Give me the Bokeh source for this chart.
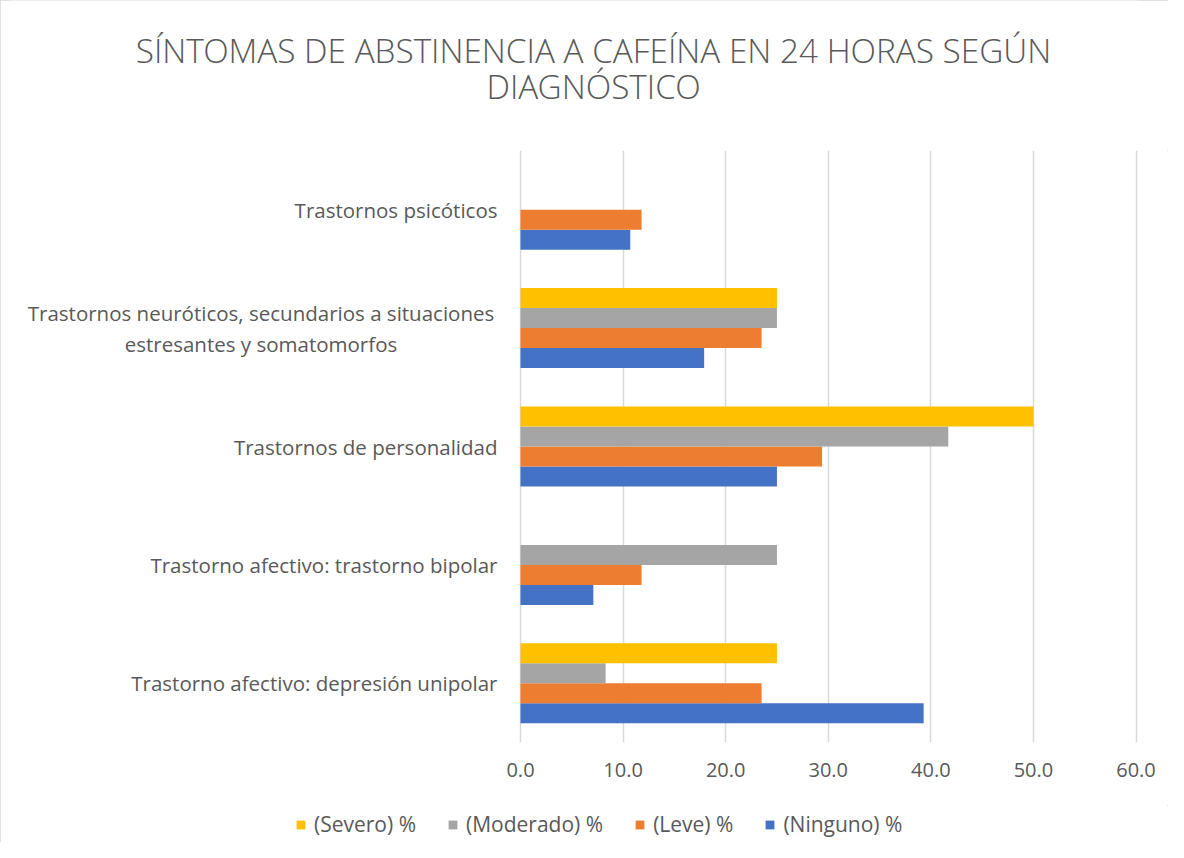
from bokeh.plotting import figure
from bokeh.layouts import column
from bokeh.models import (Legend, LegendItem, Label, NumeralTickFormatter, FixedTicker,
                          FactorRange, Range1d, ColumnDataSource)
from bokeh.transform import dodge
from bokeh.embed import file_html
from bokeh.resources import INLINE
from bokeh.core.properties import value

categories = [
    "Trastorno afectivo: depresión unipolar",
    "Trastorno afectivo: trastorno bipolar",
    "Trastornos de personalidad",
    "Trastornos neuróticos, secundarios a situaciones\nestresantes y somatomorfos",
    "Trastornos psicóticos",
]
ninguno = [39.3, 7.1, 25.0, 17.9, 10.7]
leve = [23.5, 11.8, 29.4, 23.5, 11.8]
moderado = [8.3, 25.0, 41.7, 25.0, 0.0]
severo = [25.0, 0.0, 50.0, 25.0, 0.0]
x_ticks = [0, 10, 20, 30, 40, 50, 60]
series_labels = ["(Severo) %", "(Moderado) %", "(Leve) %", "(Ninguno) %"]
title_lines = ["SÍNTOMAS DE ABSTINENCIA A CAFEÍNA EN 24 HORAS SEGÚN", "DIAGNÓSTICO"]

FONT = "Open Sans"
TFONT = "'Open Sans Light', 'Open Sans'"
TXT = "#595959"
COLORS = {"ninguno": "#4472C4", "leve": "#ED7D31", "moderado": "#A5A5A5", "severo": "#FFC000"}

# page geometry (px)
W = 1168
FRAME_L, FRAME_R = 10, 1138
TITLE_H, MAIN_H, LEG_H = 150, 655, 37
ZERO_PX, SIXTY_PX = 520, 1135.5
ppu = (SIXTY_PX - ZERO_PX) / 60.0
x_start = -(ZERO_PX - FRAME_L) / ppu
x_end = 60 + (FRAME_R - SIXTY_PX) / ppu


def bare(fig):
    fig.outline_line_color = None
    fig.background_fill_color = "white"
    fig.border_fill_color = "white"
    return fig


# ---- title strip ----
pt = bare(figure(width=W, height=TITLE_H, output_backend="svg", toolbar_location=None,
                 x_range=Range1d(FRAME_L, FRAME_R), y_range=Range1d(TITLE_H, 0),
                 x_axis_type=None, y_axis_type=None, min_border=0,
                 min_border_left=FRAME_L, min_border_right=W - FRAME_R))
for line, yc in zip(title_lines, [49, 85.5]):
    pt.add_layout(Label(x=593, y=yc, text=line, text_align="center",
                        text_baseline="middle", text_font=TFONT, text_font_size="33.3px",
                        text_color=TXT))

# ---- main chart ----
source = ColumnDataSource(dict(cat=categories, ninguno=ninguno, leve=leve,
                               moderado=moderado, severo=severo))

p = bare(figure(width=W, height=MAIN_H, output_backend="svg", toolbar_location=None,
                y_range=FactorRange(factors=categories), x_range=Range1d(x_start, x_end),
                min_border_left=FRAME_L, min_border_right=W - FRAME_R, min_border_top=0,
                min_border_bottom=MAIN_H - 592))

bh = 0.169
specs = [("ninguno", -1.5 * bh), ("leve", -0.5 * bh), ("moderado", 0.5 * bh),
         ("severo", 1.5 * bh)]
for col, off in specs:
    p.hbar(y=dodge("cat", off, range=p.y_range), left=0, right=col,
           height=bh, source=source, fill_color=COLORS[col], line_color=None)

# category labels, left of the zero line
lab_x, lab_align = [], []
for c in categories:
    if "\n" in c:
        lab_x.append((260.5 - ZERO_PX) / ppu)
        lab_align.append("center")
    else:
        lab_x.append((497 - ZERO_PX) / ppu)
        lab_align.append("right")
lab_src = ColumnDataSource(dict(x=lab_x, y=categories, text=categories, align=lab_align))
p.text(x="x", y="y", text="text", text_align="align", source=lab_src,
       text_baseline="middle", text_font=value(FONT), text_font_size="20.5px",
       text_color=TXT, text_line_height=1.107)

p.yaxis.visible = False
p.xaxis.ticker = FixedTicker(ticks=x_ticks)
p.xgrid.ticker = FixedTicker(ticks=x_ticks)
p.xaxis.formatter = NumeralTickFormatter(format="0.0")
p.xaxis.axis_line_color = None
p.xaxis.major_tick_line_color = None
p.xaxis.minor_tick_line_color = None
p.xaxis.major_label_text_font = FONT
p.xaxis.major_label_text_font_size = "20px"
p.xaxis.major_label_text_color = TXT
p.xaxis.major_label_standoff = 14
p.xgrid.grid_line_color = "#d9d9d9"
p.xgrid.grid_line_width = 1.5
p.ygrid.grid_line_color = None

# ---- legend strip (swatch renderers sit outside its visible range) ----
pl = bare(figure(width=W, height=LEG_H, output_backend="svg", toolbar_location=None,
                 x_range=Range1d(0, 1), y_range=Range1d(0, 1),
                 x_axis_type=None, y_axis_type=None, min_border=0,
                 min_border_left=FRAME_L, min_border_right=W - FRAME_R))
items = []
for lab, col in zip(series_labels, ["severo", "moderado", "leve", "ninguno"]):
    r = pl.hbar(y="y", left="left", right="right", height=0.1,
                source=ColumnDataSource(dict(y=[5.0], left=[0.0], right=[0.0])),
                fill_color=COLORS[col], line_color=None)
    items.append(LegendItem(label=lab, renderers=[r]))
legend = Legend(items=items, orientation="horizontal", location=(295 - FRAME_L, 4))
legend.border_line_color = None
legend.background_fill_alpha = 0
legend.padding = 0
legend.margin = 0
legend.spacing = 31
legend.glyph_width = 11
legend.glyph_height = 11
legend.label_standoff = 8
legend.label_text_font = FONT
legend.label_text_font_size = "21px"
legend.label_text_color = TXT
pl.add_layout(legend, "center")

layout = column(pt, p, pl, spacing=0)
layout.styles = {"outline": "1px solid #d9d9d9", "outline-offset": "-1px"}

open("out.html", "w").write(file_html(layout, INLINE))
